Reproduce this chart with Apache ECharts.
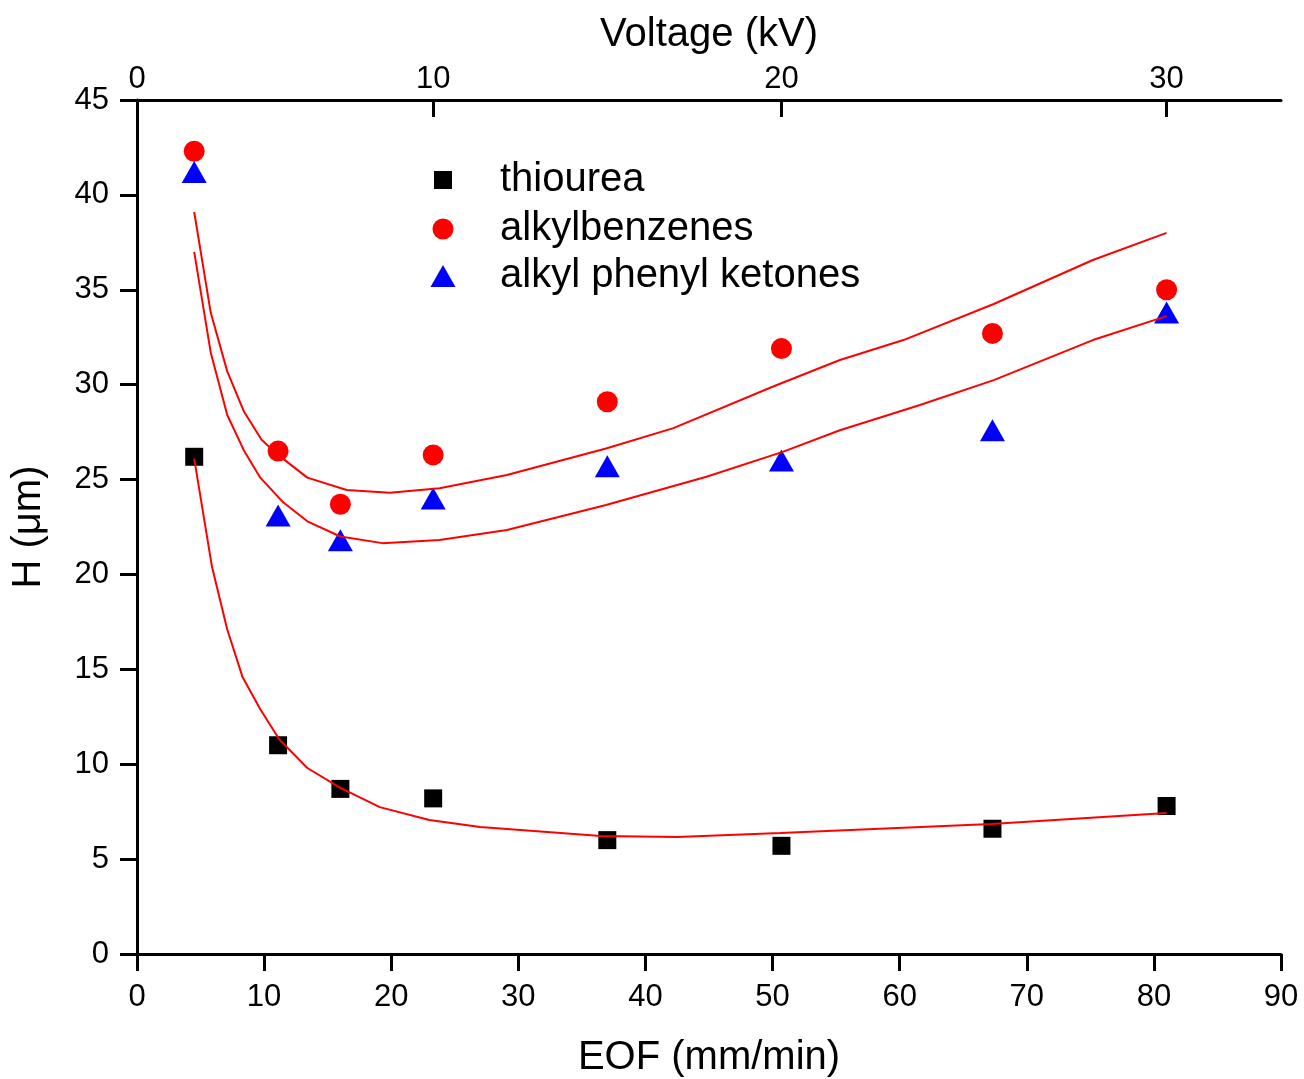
<!DOCTYPE html>
<html>
<head>
<meta charset="utf-8">
<script src="https://cdn.jsdelivr.net/npm/echarts@6/dist/echarts.min.js"></script>
<style>
  html, body { margin: 0; padding: 0; background: #fff; }
  #chart { width: 1304px; height: 1079px; }
</style>
</head>
<body>
<div id="chart"></div>
<script>
// Measured plate heights H (µm) against electroosmotic flow (mm/min)
const eof = [4.5, 11.1, 16.0, 23.3, 37.0, 50.7, 67.3, 81.0];
const thiourea = [26.2, 11.0, 8.7, 8.2, 6.0, 5.7, 6.6, 7.8];
const alkylbenzenes = [42.3, 26.5, 23.7, 26.3, 29.1, 31.9, 32.7, 35.0];
const ketones = [41.2, 23.1, 21.8, 24.0, 25.7, 26.0, 27.6, 33.8];

// Van Deemter fit curves, sampled points (EOF, H)
const fitThioureaX = [4.5, 5.9, 7.1, 8.3, 9.7, 11.2, 13.4, 16.0, 19.1, 23.0, 27.0, 36.5, 42.5, 50.6, 67.2, 81.0];
const fitThioureaY = [26.1, 20.4, 17.1, 14.6, 12.9, 11.3, 9.8, 8.75, 7.74, 7.06, 6.69, 6.22, 6.16, 6.38, 6.85, 7.43];
const fitBenzX = [4.5, 5.8, 7.1, 8.4, 9.8, 11.1, 13.4, 16.5, 19.9, 23.8, 29.1, 36.9, 42.2, 50.0, 55.3, 60.3, 67.4, 75.2, 81.0];
const fitBenzY = [39.1, 33.8, 30.7, 28.6, 27.1, 26.3, 25.1, 24.45, 24.3, 24.54, 25.24, 26.64, 27.71, 29.89, 31.3, 32.35, 34.25, 36.57, 38.0];
const fitKetoneX = [4.5, 5.8, 7.1, 8.4, 9.7, 11.5, 13.4, 16.0, 19.3, 23.8, 29.1, 36.9, 44.8, 50.8, 55.3, 61.6, 67.4, 75.2, 81.0];
const fitKetoneY = [37.0, 31.7, 28.4, 26.55, 25.1, 23.8, 22.8, 22.0, 21.65, 21.81, 22.34, 23.66, 25.15, 26.46, 27.6, 28.93, 30.24, 32.35, 33.61];

// Applied voltage (kV) and the EOF value at which each voltage sits on the top axis
const voltageTicks = [0, 10, 20, 30];
const voltageTickEOF = [0, 23.3, 50.7, 81.0];

const FONT = '"Liberation Sans", Arial, Helvetica, sans-serif';
const zip = (xs, ys) => xs.map((x, i) => [x, ys[i]]);

function voltageLabel(v) {
  for (let i = 0; i < voltageTickEOF.length; i++) {
    if (Math.abs(voltageTickEOF[i] - v) < 1e-6) return String(voltageTicks[i]);
  }
  return '';
}

const chart = echarts.init(document.getElementById('chart'), null, { renderer: 'canvas' });

const axisLine = { show: true, onZero: false, lineStyle: { color: '#000', width: 3 } };
const tickStyle = { color: '#000', width: 3 };
const labelStyle = { fontSize: 31, color: '#000', fontFamily: FONT };
const nameStyle = { fontSize: 40, color: '#000', fontFamily: FONT };

function legendFor(name, icon, w, h, left, top, pad) {
  return {
    orient: 'vertical',
    left: left, top: top,
    padding: 0,
    itemWidth: w, itemHeight: h,
    selectedMode: false,
    data: [{ name: name, icon: icon }],
    textStyle: { fontSize: 40, color: '#000', fontFamily: FONT, padding: [0, 0, 0, pad] }
  };
}

const fitLine = { color: '#ff0000', width: 2 };

const option = {
  animation: false,
  backgroundColor: '#fff',
  textStyle: { fontFamily: FONT },
  grid: { left: 137, right: 23, top: 100, bottom: 125, containLabel: false, outerBoundsMode: 'none' },
  legend: [
    legendFor('thiourea', 'rect', 18, 18, 434, 160, 43),
    legendFor('alkylbenzenes', 'circle', 21, 21, 432.5, 209, 41.5),
    legendFor('alkyl phenyl ketones', 'triangle', 25, 22, 430.5, 256, 39.5)
  ],
  xAxis: [
    {
      type: 'value', position: 'bottom', min: 0, max: 90, interval: 10,
      axisLine: axisLine,
      axisTick: { show: true, inside: false, length: 17, lineStyle: tickStyle },
      axisLabel: Object.assign({ margin: 28 }, labelStyle),
      splitLine: { show: false },
      name: 'EOF (mm/min)', nameLocation: 'middle', nameGap: 84, nameTextStyle: nameStyle
    },
    {
      type: 'value', position: 'top', min: 0, max: 90,
      axisLine: axisLine,
      axisTick: { show: true, inside: true, length: 17, lineStyle: tickStyle, customValues: voltageTickEOF },
      axisLabel: Object.assign({ margin: 5, customValues: voltageTickEOF, formatter: voltageLabel }, labelStyle),
      splitLine: { show: false },
      name: 'Voltage (kV)', nameLocation: 'middle', nameGap: 45, nameTextStyle: nameStyle
    }
  ],
  yAxis: {
    type: 'value', position: 'left', min: 0, max: 45, interval: 5,
    axisLine: axisLine,
    axisTick: { show: true, inside: false, length: 17, lineStyle: tickStyle },
    axisLabel: Object.assign({ margin: 28 }, labelStyle),
    splitLine: { show: false },
    name: 'H (\u03bcm)', nameLocation: 'middle', nameGap: 88, nameRotate: 90, nameTextStyle: nameStyle
  },
  series: [
    {
      name: 'thiourea', type: 'scatter', xAxisIndex: 0, z: 2,
      symbol: 'rect', symbolSize: 18,
      itemStyle: { color: '#000000', opacity: 1 },
      emphasis: { disabled: true },
      data: zip(eof, thiourea)
    },
    {
      name: 'alkylbenzenes', type: 'scatter', xAxisIndex: 0, z: 2,
      symbol: 'circle', symbolSize: 21,
      itemStyle: { color: '#ff0000', opacity: 1 },
      emphasis: { disabled: true },
      data: zip(eof, alkylbenzenes)
    },
    {
      name: 'alkyl phenyl ketones', type: 'scatter', xAxisIndex: 0, z: 2,
      symbol: 'triangle', symbolSize: [25, 22],
      itemStyle: { color: '#0000ff', opacity: 1 },
      emphasis: { disabled: true },
      data: zip(eof, ketones)
    },
    {
      name: 'fit thiourea', type: 'line', xAxisIndex: 0, z: 3,
      showSymbol: false, smooth: false,
      lineStyle: fitLine,
      data: zip(fitThioureaX, fitThioureaY)
    },
    {
      name: 'fit alkylbenzenes', type: 'line', xAxisIndex: 0, z: 3,
      showSymbol: false, smooth: false,
      lineStyle: fitLine,
      data: zip(fitBenzX, fitBenzY)
    },
    {
      name: 'fit ketones', type: 'line', xAxisIndex: 0, z: 3,
      showSymbol: false, smooth: false,
      lineStyle: fitLine,
      data: zip(fitKetoneX, fitKetoneY)
    }
  ]
};

chart.setOption(option);
</script>
</body>
</html>
